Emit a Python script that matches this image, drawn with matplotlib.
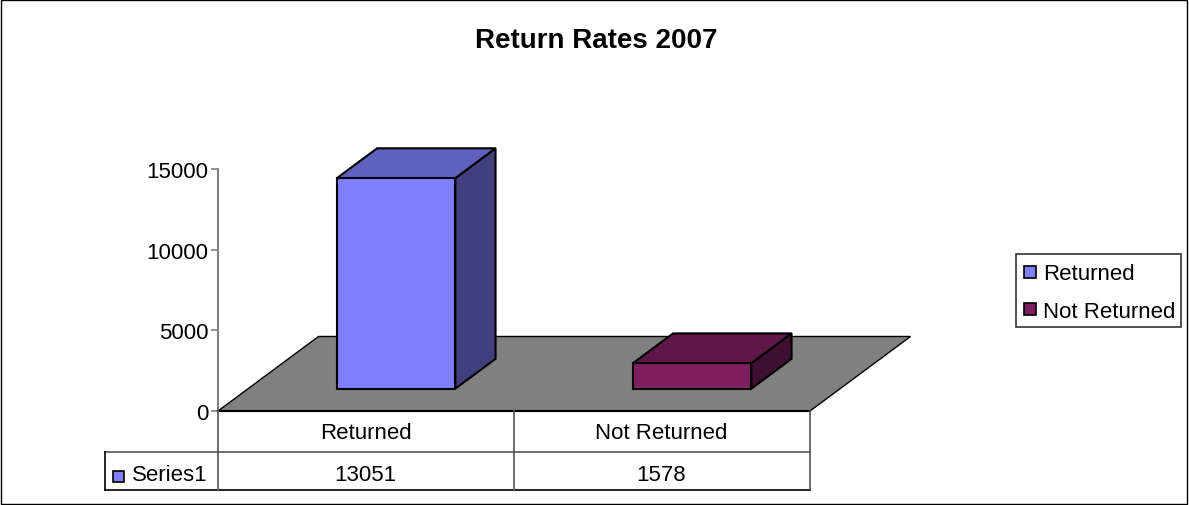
import matplotlib
matplotlib.use("Agg")
import matplotlib.pyplot as plt
from matplotlib.patches import Polygon, Rectangle

plt.rcParams['font.family'] = ['Liberation Sans', 'DejaVu Sans']

categories = ["Returned", "Not Returned"]
values = [13051, 1578]
series_name = "Series1"
yticks = [0, 5000, 10000, 15000]
title = "Return Rates 2007"

W, H = 1189, 506
# plot box in pixels, measured from the top left
X0, X1, Y0, Y1 = 218, 810, 412, 170
# how far the floor goes back, in pixels
DEPTH_X, DEPTH_Y = 100.5, 74.5

GREY = "#808080"
front_colors = ["#8080ff", "#7f1f5f"]
top_colors = ["#6060bf", "#5f1747"]
side_colors = ["#40407f", "#3f0f2f"]


def px(x, y):
    # pixel position (from top left) to figure fraction
    return x / W, 1 - y / H


def corner(ax, x, val, depth):
    # data position pushed back by depth (0 front, 1 back) to display coords
    dx, dy = ax.transData.transform((x, val))
    return dx + DEPTH_X * depth, dy + DEPTH_Y * depth


def draw_bar(ax, center, val, i):
    left, right = center - 0.2, center + 0.2
    d0, d1 = 0.30, 0.70
    f = lambda x, v, d: corner(ax, x, v, d)
    front = [f(left, 0, d0), f(right, 0, d0), f(right, val, d0), f(left, val, d0)]
    top = [f(left, val, d0), f(right, val, d0), f(right, val, d1), f(left, val, d1)]
    side = [f(right, 0, d0), f(right, 0, d1), f(right, val, d1), f(right, val, d0)]
    for pts, col in [(side, side_colors[i]), (top, top_colors[i]), (front, front_colors[i])]:
        ax.add_patch(Polygon(pts, closed=True, transform=None, facecolor=col,
                             edgecolor="black", linewidth=1.5, joinstyle="miter",
                             clip_on=False, zorder=3))


fig = plt.figure(figsize=(W / 100, H / 100), dpi=100, facecolor="white")

# outer border
fig.add_artist(Rectangle(px(0.5, H - 1), (W - 2.5) / W, (H - 1.5) / H, transform=fig.transFigure,
                         facecolor="none", edgecolor="black", linewidth=1))

fx0, fy0 = px(X0, Y0)
fx1, fy1 = px(X1, Y1)
ax = fig.add_axes([fx0, fy0, fx1 - fx0, fy1 - fy0])
ax.set_xlim(0, len(categories))
ax.set_ylim(0, yticks[-1])
ax.patch.set_visible(False)
for s in ["top", "right", "bottom"]:
    ax.spines[s].set_visible(False)
ax.spines["left"].set_color(GREY)
ax.spines["left"].set_linewidth(1.5)
ax.set_xticks([])
ax.set_yticks(yticks)
ax.tick_params(axis="y", length=5, width=1.2, color=GREY, labelsize=16, pad=2, labelcolor="black")

# floor
floor = [corner(ax, 0, 0, 0), corner(ax, len(categories), 0, 0),
         corner(ax, len(categories), 0, 1), corner(ax, 0, 0, 1)]
ax.add_patch(Polygon(floor, closed=True, transform=None, facecolor=GREY, edgecolor="black",
                     linewidth=1, clip_on=False, zorder=1))

for i, v in enumerate(values):
    draw_bar(ax, i + 0.5, v, i)

fig.text(*px(596, 41), title, fontsize=20, fontweight="bold", ha="center", va="center")


def hline(x0, x1, y, col="black", lw=1.2):
    fig.add_artist(plt.Line2D([x0 / W, x1 / W], [1 - y / H, 1 - y / H], color=col, linewidth=lw))


def vline(x, y0, y1, col="black", lw=1.2):
    fig.add_artist(plt.Line2D([x / W, x / W], [1 - y0 / H, 1 - y1 / H], color=col, linewidth=lw))


# data table under the plot
hline(X0, X1, 412, lw=1.5)
hline(105, X1, 452.5, col="#555555")
hline(105, X1, 491)
vline(105, 452.5, 491)
vline(217.5, 412, 491, col="#555555")
vline(513.5, 412, 491, col="#555555")
vline(809.5, 412, 491, col="#555555")

cell_x = [365.5, 661.5]
for i, name in enumerate(categories):
    fig.text(*px(cell_x[i], 433.5), name, fontsize=16, ha="center", va="center")
    fig.text(*px(cell_x[i], 475.5), str(values[i]), fontsize=16, ha="center", va="center")
fig.text(*px(132, 475.5), series_name, fontsize=16, ha="left", va="center")
fig.add_artist(Rectangle(px(113, 483), 11 / W, 11 / H, transform=fig.transFigure,
                         facecolor=front_colors[0], edgecolor="black", linewidth=1.2))

# legend box
fig.add_artist(Rectangle(px(1015.5, 327.5), 165 / W, 73 / H, transform=fig.transFigure,
                         facecolor="white", edgecolor="#333333", linewidth=1.2))
leg_y = [273, 310]
for i, name in enumerate(categories):
    fig.add_artist(Rectangle(px(1024, leg_y[i] + 6), 12 / W, 12 / H, transform=fig.transFigure,
                             facecolor=front_colors[i], edgecolor="black", linewidth=1.2))
    fig.text(*px(1043, leg_y[i] + 2), name, fontsize=16, ha="left", va="center")

fig.savefig("out.png", dpi=100)
